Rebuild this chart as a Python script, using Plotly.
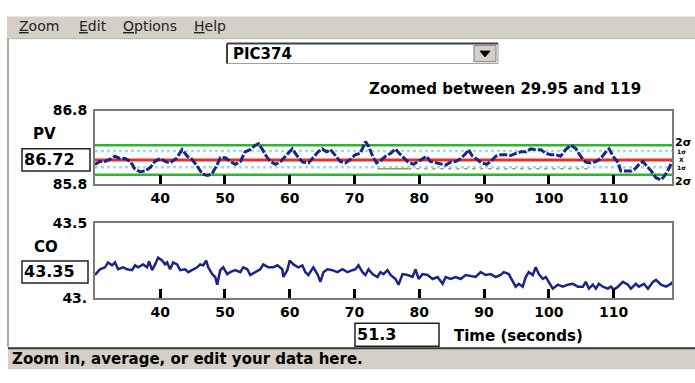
import plotly.graph_objects as go

W, H = 695, 383

# ---- PV trend (process variable) ----
pv_time = [29.95, 30.7, 31.5, 32.3, 33.0, 33.8, 34.6, 35.4, 36.1, 36.9, 37.7, 38.5, 39.2, 40.0,
           40.8, 41.5, 42.5, 43.4, 44.2, 44.9, 45.7, 46.5, 47.3, 48.0, 48.7, 49.3, 50.1, 50.8,
           51.6, 52.4, 53.1, 53.9, 54.7, 55.2, 55.8, 56.4, 57.0, 57.8, 58.6, 59.3, 60.4, 61.2,
           62.0, 62.9, 63.8, 64.4, 65.0, 65.7, 66.3, 67.1, 67.8, 68.6, 69.4, 70.1, 70.9, 71.7,
           72.2, 72.8, 73.4, 74.0, 74.8, 75.6, 76.3, 76.9, 77.7, 78.3, 79.1, 79.9, 80.5, 81.1,
           81.7, 82.5, 83.3, 84.1, 84.8, 85.6, 86.4, 87.2, 87.6, 88.2, 88.9, 89.6, 90.4, 91.0,
           91.8, 92.6, 93.3, 94.1, 94.9, 95.7, 96.4, 97.2, 98.0, 98.8, 99.5, 100.3, 101.1, 101.8,
           102.6, 103.4, 104.2, 104.9, 105.7, 106.5, 107.3, 108.0, 108.8, 109.3, 109.9, 110.7,
           111.1, 111.9, 112.7, 113.3, 113.9, 114.5, 115.1, 115.8, 116.5, 117.3, 117.9, 118.5, 119.0]
pv_value = [86.07, 86.11, 86.11, 86.14, 86.18, 86.15, 86.15, 86.11, 86.01, 85.97, 85.98, 86.03, 86.11, 86.15,
            86.11, 86.09, 86.15, 86.27, 86.18, 86.14, 86.05, 85.94, 85.92, 85.94, 86.05, 86.16, 86.16, 86.11,
            86.07, 86.11, 86.24, 86.27, 86.33, 86.35, 86.27, 86.18, 86.11, 86.07, 86.11, 86.18, 86.28, 86.18,
            86.10, 86.09, 86.18, 86.24, 86.28, 86.24, 86.27, 86.18, 86.11, 86.09, 86.14, 86.20, 86.22, 86.38,
            86.31, 86.18, 86.09, 86.12, 86.18, 86.22, 86.28, 86.22, 86.15, 86.10, 86.07, 86.11, 86.15, 86.18,
            86.11, 86.09, 86.07, 86.06, 86.10, 86.11, 86.15, 86.22, 86.27, 86.18, 86.14, 86.09, 86.07, 86.11,
            86.18, 86.20, 86.20, 86.19, 86.22, 86.24, 86.24, 86.28, 86.27, 86.27, 86.22, 86.20, 86.20, 86.18,
            86.27, 86.33, 86.28, 86.18, 86.10, 86.09, 86.11, 86.15, 86.24, 86.28, 86.18, 86.09,
            85.98, 85.98, 85.98, 86.01, 86.07, 86.11, 86.05, 85.98, 85.89, 85.86, 85.92, 86.01, 86.11]

# control limits for PV
pv_mean = 86.13
pv_upper_1s = 86.25
pv_lower_1s = 86.03
pv_upper_2s = 86.33
pv_lower_2s = 85.93
# averaged section marker
avg_dense_time = [73.5, 78.3]
avg_sparse_time = [78.3, 106.2]
avg_level = 86.01

# ---- CO trend (controller output) ----
co_time = [29.95, 30.72, 31.50, 31.96, 32.58, 33.04, 33.51, 34.28, 34.90, 35.67, 36.13, 36.60, 37.37,
           37.99, 38.30, 38.76, 39.23, 39.69, 40.31, 40.77, 41.08, 41.55, 42.01, 42.63, 43.09, 43.86,
           44.33, 44.95, 45.72, 46.18, 46.65, 47.11, 47.42, 48.04, 48.50, 48.81, 49.28, 49.74, 50.36,
           50.82, 51.59, 52.37, 52.83, 53.45, 53.91, 54.69, 55.46, 55.92, 56.70, 57.47, 58.09, 58.86,
           59.02, 59.63, 60.00, 60.56, 61.33, 61.95, 62.42, 62.88, 63.65, 64.27, 64.74, 65.20, 65.82,
           66.59, 67.36, 68.14, 68.91, 69.68, 70.15, 70.61, 71.23, 71.69, 72.16, 72.77, 73.55, 74.01,
           74.48, 75.09, 75.56, 76.33, 76.79, 77.41, 78.19, 78.96, 79.42, 79.89, 80.50, 81.28, 82.05,
           82.82, 83.60, 84.06, 84.83, 85.61, 86.38, 87.15, 87.93, 88.70, 89.47, 90.25, 91.02, 91.79,
           92.56, 93.03, 93.80, 94.42, 94.88, 95.35, 95.96, 96.43, 96.89, 97.51, 97.97, 98.44, 99.06,
           99.52, 99.98, 100.60, 101.38, 102.15, 102.92, 103.70, 104.47, 105.24, 105.70, 106.17, 106.79,
           107.25, 107.71, 108.33, 109.10, 109.57, 110.03, 110.65, 111.42, 112.20, 112.66, 113.43,
           113.90, 114.67, 115.29, 116.06, 116.53, 117.30, 118.07, 118.85, 119.0]
co_value = [43.154, 43.192, 43.205, 43.237, 43.218, 43.237, 43.192, 43.205, 43.192, 43.186, 43.218, 43.205, 43.224,
            43.205, 43.244, 43.186, 43.224, 43.269, 43.250, 43.224, 43.237, 43.192, 43.237, 43.224, 43.186, 43.192,
            43.173, 43.186, 43.205, 43.224, 43.218, 43.250, 43.205, 43.160, 43.141, 43.090, 43.186, 43.205, 43.160,
            43.173, 43.186, 43.173, 43.205, 43.192, 43.154, 43.173, 43.192, 43.224, 43.205, 43.205, 43.218, 43.192,
            43.141, 43.186, 43.250, 43.224, 43.205, 43.218, 43.173, 43.154, 43.205, 43.160, 43.109, 43.173, 43.192,
            43.186, 43.173, 43.192, 43.173, 43.186, 43.192, 43.218, 43.173, 43.154, 43.192, 43.160, 43.141, 43.173,
            43.160, 43.186, 43.154, 43.128, 43.090, 43.160, 43.154, 43.141, 43.192, 43.128, 43.160, 43.154, 43.128,
            43.141, 43.096, 43.141, 43.128, 43.141, 43.128, 43.154, 43.147, 43.141, 43.173, 43.154, 43.160, 43.141,
            43.154, 43.173, 43.160, 43.109, 43.077, 43.096, 43.077, 43.141, 43.173, 43.154, 43.205, 43.160, 43.128,
            43.141, 43.109, 43.064, 43.090, 43.077, 43.090, 43.096, 43.077, 43.077, 43.109, 43.064, 43.090,
            43.064, 43.096, 43.077, 43.064, 43.077, 43.058, 43.077, 43.109, 43.090, 43.064, 43.096,
            43.077, 43.096, 43.064, 43.109, 43.122, 43.090, 43.077, 43.096, 43.109]

x_range = [29.95, 119]
x_ticks = [40, 50, 60, 70, 80, 90, 100, 110]
pv_range = [85.8, 86.8]
co_range = [43.0, 43.5]
pv_current = "86.72"
co_current = "43.35"
cursor_time = "51.3"
tag_name = "PIC374"

NAVY = "#1c2585"
GREEN = "#2fb52f"
RED = "#e4302a"
CYAN = "#9fdde6"
OLIVE = "#8fa24a"
FACE = "#d4d0c8"
FONT = "DejaVu Sans"


def px(x):
    return x / W


def py(y):
    return 1 - y / H


fig = go.Figure()


def hline(level, color, width, dash, xa, ya, t=None):
    fig.add_trace(go.Scatter(
        x=t if t is not None else x_range, y=[level, level], mode="lines",
        line=dict(color=color, width=width, dash=dash),
        xaxis=xa, yaxis=ya, hoverinfo="skip", showlegend=False))


hline(pv_upper_2s, GREEN, 2.5, "solid", "x", "y")
hline(pv_lower_2s, GREEN, 2.5, "solid", "x", "y")
hline(pv_upper_1s, CYAN, 2.5, "dot", "x", "y")
hline(pv_lower_1s, CYAN, 2.5, "dot", "x", "y")
hline(pv_mean, RED, 3, "solid", "x", "y")
hline(avg_level, OLIVE, 1.5, "solid", "x", "y", avg_dense_time)
hline(avg_level, OLIVE, 1.5, "3px,5px", "x", "y", avg_sparse_time)

fig.add_trace(go.Scatter(x=pv_time, y=pv_value, mode="lines",
                         line=dict(color=NAVY, width=3, dash="8px,2px"),
                         xaxis="x", yaxis="y", showlegend=False))
fig.add_trace(go.Scatter(x=co_time, y=co_value, mode="lines",
                         line=dict(color=NAVY, width=2.5),
                         xaxis="x2", yaxis="y2", showlegend=False))

xcommon = dict(range=x_range, tickvals=x_ticks, ticks="inside", ticklen=9, tickwidth=3,
               tickcolor="black", showline=True, linecolor="#7a7a7a", linewidth=2, mirror=True,
               showgrid=False, zeroline=False,
               tickfont=dict(family=FONT, size=14, color="black", weight="bold"),
               domain=[px(95), px(672)])
ycommon = dict(ticks="", showline=True, linecolor="#7a7a7a", linewidth=2, mirror=True,
               showgrid=False, zeroline=False, ticklabelstandoff=3,
               tickfont=dict(family=FONT, size=14, color="black", weight="bold"))

fig.update_layout(
    width=W, height=H, margin=dict(l=0, r=0, t=0, b=0),
    paper_bgcolor="white", plot_bgcolor="white", showlegend=False,
    xaxis=dict(**xcommon, anchor="y"),
    yaxis=dict(**ycommon, range=pv_range, tickvals=pv_range,
               ticktext=["85.8", "86.8"], domain=[py(184), py(107)], anchor="x"),
    xaxis2=dict(**xcommon, anchor="y2"),
    yaxis2=dict(**ycommon, range=co_range, tickvals=co_range,
                ticktext=["43.", "43.5"], domain=[py(303), py(224)], anchor="x2"),
)

shapes = []


def rect(x0, y0, x1, y1, fill, line_color=None, lw=1):
    shapes.append(dict(type="rect", xref="paper", yref="paper",
                       x0=px(x0), x1=px(x1), y0=py(y1), y1=py(y0),
                       fillcolor=fill, layer="below",
                       line=dict(color=line_color or fill, width=lw if line_color else 0)))


def seg(x0, y0, x1, y1, color, lw):
    shapes.append(dict(type="line", xref="paper", yref="paper",
                       x0=px(x0), x1=px(x1), y0=py(y0), y1=py(y1),
                       line=dict(color=color, width=lw)))


# window chrome: menu bar, left frame, status bar
rect(7, 9, 695, 32, FACE)
seg(7, 32, 695, 32, "#b8b4ac", 1)
seg(8, 32, 8, 354, "#a8a8a8", 2)
rect(8, 354, 695, 377, FACE)
seg(8, 355, 695, 355, "#3a3a3a", 2)

# tag selector combo box
rect(227, 37, 498, 58, "white", "#9a9a9a", 1)
seg(227, 37, 498, 37, "#404040", 2)
seg(227, 37, 227, 58, "#404040", 2)
rect(474, 39, 496, 56, FACE, "#7a7a7a", 1)
shapes.append(dict(type="path", xref="paper", yref="paper",
                   path=f"M {px(480)} {py(45)} L {px(490)} {py(45)} L {px(485)} {py(51)} Z",
                   fillcolor="black", line=dict(color="black", width=1)))

# readout boxes
rect(22, 147, 90, 170, "white", "#222222", 1.5)
rect(22, 264, 88, 287, "white", "#222222", 1.5)
rect(355, 329, 439, 353, "white", "#222222", 1.5)

fig.update_layout(shapes=shapes)

ann = []


def text(x, y, s, size=15, bold=True, anchor="left", color="black"):
    ann.append(dict(x=px(x), y=py(y), xref="paper", yref="paper", text=s, showarrow=False,
                    xanchor=anchor, yanchor="middle",
                    font=dict(family=FONT, size=size, color=color,
                              weight="bold" if bold else "normal")))


def u(word):
    return f'<span style="text-decoration:underline">{word[0]}</span>{word[1:]}'


text(17, 19, u("Zoom"), 14, False, color="#222222")
text(77, 19, u("Edit"), 14, False, color="#222222")
text(121, 19, u("Options"), 14, False, color="#222222")
text(192, 19, u("Help"), 14, False, color="#222222")
text(231, 48, tag_name, 15)
text(367, 85, "Zoomed between 29.95 and 119", 15)
text(31, 131, "PV", 15)
text(32, 249, "CO", 15)
text(22, 158, pv_current, 16)
text(22, 275, co_current, 16)
text(355, 341, cursor_time, 16)
text(452, 342, "Time (seconds)", 15)
text(10, 366, "Zoom in, average, or edit your data here.", 15)

# control-limit labels beside the PV plot: 2σ on the outer limits,
# a compact stacked label for the inner 1σ / mean / 1σ lines
sig_font = dict(family=FONT, size=11, color="black", weight="bold")
ann.append(dict(x=1, xref="x domain", y=pv_upper_2s, yref="y", text="2σ", showarrow=False,
                xanchor="left", yanchor="bottom", xshift=2, yshift=-5, font=sig_font, borderpad=0))
ann.append(dict(x=1, xref="x domain", y=pv_lower_2s, yref="y", text="2σ", showarrow=False,
                xanchor="left", yanchor="top", xshift=2, yshift=1, font=sig_font, borderpad=0))
ann.append(dict(x=1, xref="x domain", y=pv_mean, yref="y", text="1σ<br>X<br>1σ", showarrow=False,
                xanchor="left", yanchor="middle", xshift=4, borderpad=0,
                font=dict(family=FONT, size=6, color="black", weight="bold")))

fig.update_layout(annotations=ann)

fig.write_html("out.html")
